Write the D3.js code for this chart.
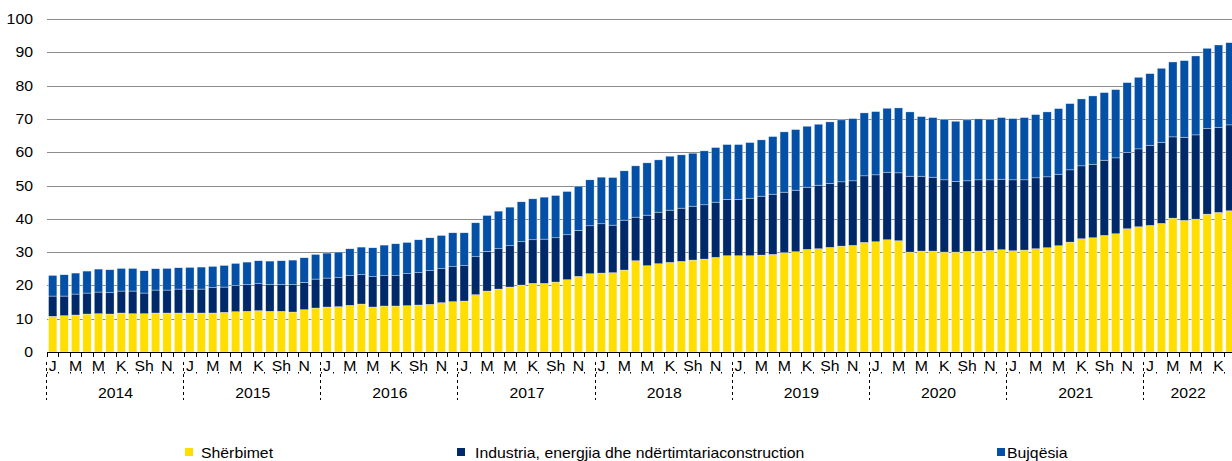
<!DOCTYPE html>
<html>
<head>
<meta charset="utf-8">
<script src="https://cdn.jsdelivr.net/npm/d3@7"></script>
<style>
  body { margin: 0; background: #fff; }
  svg { display: block; font-family: "Liberation Sans", Arial, sans-serif; }
</style>
</head>
<body>
<script>
// year groups and month tick labels (only every other month is labelled)
var years = ["2014", "2015", "2016", "2017", "2018", "2019", "2020", "2021", "2022"];
var monthLabels = ["J", "", "M", "", "M", "", "K", "", "Sh", "", "N", ""];
var yTicks = [0, 10, 20, 30, 40, 50, 60, 70, 80, 90, 100];

// monthly values, Jan 2014 - Aug 2022
var sherbimet = [
  10.7, 10.9, 11.1, 11.4, 11.5, 11.4, 11.7, 11.5, 11.5, 11.7, 11.7, 11.7,
  11.7, 11.7, 11.7, 11.9, 12.1, 12.2, 12.4, 12.2, 12.2, 12.0, 12.7, 13.2,
  13.5, 13.6, 14.0, 14.4, 13.5, 13.8, 13.8, 13.9, 14.1, 14.3, 14.8, 15.1,
  15.3, 17.2, 18.3, 18.9, 19.5, 20.1, 20.6, 20.6, 21.0, 21.7, 22.7, 23.5,
  23.7, 23.8, 24.6, 27.4, 25.9, 26.5, 26.9, 27.2, 27.6, 27.9, 28.4, 28.9,
  28.9, 28.9, 29.1, 29.3, 29.8, 30.1, 30.8, 31.0, 31.4, 31.8, 32.0, 32.9,
  33.1, 33.7, 33.4, 30.0, 30.3, 30.3, 30.0, 30.0, 30.2, 30.3, 30.5, 30.7,
  30.4, 30.6, 31.0, 31.3, 31.9, 33.0, 34.0, 34.3, 35.0, 35.5, 37.0, 37.6,
  38.0, 38.6, 40.2, 39.5, 39.9, 41.4, 41.9, 42.4
];
var industria = [
  6.1, 5.9, 6.3, 6.3, 6.5, 6.4, 6.6, 6.8, 6.2, 6.9, 6.9, 7.2,
  7.2, 7.2, 7.6, 7.6, 7.8, 8.0, 8.1, 8.0, 8.0, 8.2, 8.2, 8.7,
  8.7, 8.7, 8.9, 8.8, 9.1, 9.1, 9.1, 9.6, 9.7, 10.1, 10.2, 10.5,
  10.6, 11.4, 11.9, 12.1, 12.4, 13.0, 13.1, 13.3, 13.3, 13.5, 13.8, 14.4,
  14.8, 14.3, 15.0, 13.1, 15.2, 15.5, 15.7, 16.0, 16.2, 16.3, 16.6, 16.9,
  16.9, 17.3, 17.7, 18.1, 18.2, 18.5, 18.7, 19.1, 19.2, 19.3, 19.4, 20.0,
  20.1, 20.3, 20.4, 22.8, 22.5, 22.2, 21.7, 21.2, 21.2, 21.4, 21.2, 21.2,
  21.3, 21.1, 21.3, 21.3, 21.5, 21.7, 21.9, 22.1, 22.6, 22.8, 22.9, 23.4,
  24.1, 24.4, 24.4, 25.0, 25.3, 25.8, 25.6, 25.8
];
var bujqesia = [
  6.2, 6.4, 6.3, 6.6, 6.9, 6.9, 6.8, 6.8, 6.7, 6.4, 6.5, 6.4,
  6.5, 6.6, 6.4, 6.5, 6.7, 6.8, 6.9, 7.1, 7.2, 7.4, 7.4, 7.4,
  7.5, 7.7, 8.1, 8.3, 8.7, 9.2, 9.6, 9.4, 9.9, 9.9, 10.0, 10.2,
  9.9, 10.2, 10.8, 11.3, 11.6, 12.0, 12.3, 12.6, 12.7, 13.0, 13.3, 13.8,
  14.0, 14.3, 14.8, 15.4, 15.7, 15.7, 16.2, 16.0, 15.9, 16.2, 16.4, 16.5,
  16.5, 16.7, 16.9, 17.3, 18.1, 18.2, 18.3, 18.3, 18.5, 18.6, 18.7, 18.9,
  19.0, 19.2, 19.5, 19.3, 17.9, 17.9, 18.2, 18.1, 18.3, 18.3, 18.2, 18.5,
  18.4, 18.7, 19.0, 19.5, 19.7, 19.9, 20.1, 20.5, 20.3, 20.5, 21.0, 21.5,
  21.5, 22.2, 22.5, 23.0, 23.7, 24.0, 24.7, 24.7
];

var seriesNames = ["Shërbimet", "Industria, energjia dhe ndërtimtariaconstruction", "Bujqësia"];
var colors = ["#ffde00", "#00296a", "#0450a6"];

var width = 1232, height = 461;
var n = sherbimet.length;
var step = 11.43;
var x0 = 47, yTop = 19, yBase = 352;
var stretch = 1.13; // text in the source is drawn a bit wide

var rows = d3.range(n).map(function(i) {
  return { i: i, s: sherbimet[i], ind: industria[i], b: bujqesia[i] };
});

var x = d3.scaleBand()
  .domain(d3.range(n))
  .range([x0, x0 + n * step])
  .paddingInner(0.27)
  .paddingOuter(0.135);

var y = d3.scaleLinear().domain([0, 100]).range([yBase, yTop]);

var stack = d3.stack().keys(["s", "ind", "b"]);
var layers = stack(rows);

var svg = d3.select("body").append("svg")
  .attr("width", width)
  .attr("height", height);

function place(tx, ty) {
  return "translate(" + tx + "," + ty + ") scale(" + stretch + ",1)";
}

// gridlines
svg.append("g").selectAll("line")
  .data(yTicks.slice(1))
  .enter().append("line")
  .attr("x1", x0).attr("x2", width)
  .attr("y1", function(d) { return Math.round(y(d)) + 0.5; })
  .attr("y2", function(d) { return Math.round(y(d)) + 0.5; })
  .attr("stroke", "#8c8c8c")
  .attr("stroke-width", 1.2);

// y labels
svg.append("g").selectAll("text")
  .data(yTicks)
  .enter().append("text")
  .attr("transform", function(d) { return place(33, y(d) + 5); })
  .attr("text-anchor", "end")
  .attr("font-size", 14)
  .attr("fill", "#000")
  .text(function(d) { return d; });

// bars
svg.append("g").selectAll("g")
  .data(layers)
  .enter().append("g")
  .attr("fill", function(d, i) { return colors[i]; })
  .selectAll("rect")
  .data(function(d) { return d; })
  .enter().append("rect")
  .attr("x", function(d) { return x(d.data.i); })
  .attr("width", x.bandwidth())
  .attr("y", function(d) { return y(d[1]); })
  .attr("height", function(d) { return y(d[0]) - y(d[1]); })
  .attr("stroke", "#fff")
  .attr("stroke-width", 0.5)
  .attr("stroke-opacity", 0.7);

// x axis line + month ticks
var axis = svg.append("g");
axis.append("line")
  .attr("x1", x0).attr("x2", width)
  .attr("y1", yBase + 0.5).attr("y2", yBase + 0.5)
  .attr("stroke", "#000");

axis.selectAll("line.tick")
  .data(d3.range(n + 1))
  .enter().append("line")
  .attr("class", "tick")
  .attr("x1", function(i) { return Math.round(x0 + i * step) + 0.5; })
  .attr("x2", function(i) { return Math.round(x0 + i * step) + 0.5; })
  .attr("y1", yBase).attr("y2", yBase + 5)
  .attr("stroke", "#000");

axis.selectAll("rect.dot")
  .data(d3.range(n + 1))
  .enter().append("rect")
  .attr("class", "dot")
  .attr("x", function(i) { return Math.round(x0 + i * step); })
  .attr("y", 372)
  .attr("width", 1).attr("height", 1.5)
  .attr("fill", "#000");

axis.selectAll("text.month")
  .data(d3.range(n).filter(function(i) { return monthLabels[i % 12] !== ""; }))
  .enter().append("text")
  .attr("class", "month")
  .attr("transform", function(i) { return place(x(i) + x.bandwidth() / 2, 371); })
  .attr("text-anchor", "middle")
  .attr("font-size", 14)
  .text(function(i) { return monthLabels[i % 12]; });

// year separators and labels
svg.append("g").selectAll("line")
  .data(years)
  .enter().append("line")
  .attr("x1", function(d, i) { return Math.round(x0 + i * 12 * step) - 0.5; })
  .attr("x2", function(d, i) { return Math.round(x0 + i * 12 * step) - 0.5; })
  .attr("y1", 362).attr("y2", 400)
  .attr("stroke", "#000")
  .attr("stroke-dasharray", "3,3");

svg.append("g").selectAll("text")
  .data(years)
  .enter().append("text")
  .attr("transform", function(d, i) {
    var a = x0 + i * 12 * step;
    var b = Math.min(x0 + (i + 1) * 12 * step, width);
    return place((a + b) / 2, 398);
  })
  .attr("text-anchor", "middle")
  .attr("font-size", 14)
  .text(function(d) { return d; });

// legend
var legendX = [185, 457, 997];
var legendTextX = [201, 475, 1007];
var legend = svg.append("g").selectAll("g")
  .data(seriesNames)
  .enter().append("g");

legend.append("rect")
  .attr("x", function(d, i) { return legendX[i]; })
  .attr("y", 448)
  .attr("width", 8).attr("height", 8)
  .attr("fill", function(d, i) { return colors[i]; });

legend.append("text")
  .attr("transform", function(d, i) { return place(legendTextX[i], 457.5); })
  .attr("font-size", 14)
  .text(function(d) { return d; });
</script>
</body>
</html>
